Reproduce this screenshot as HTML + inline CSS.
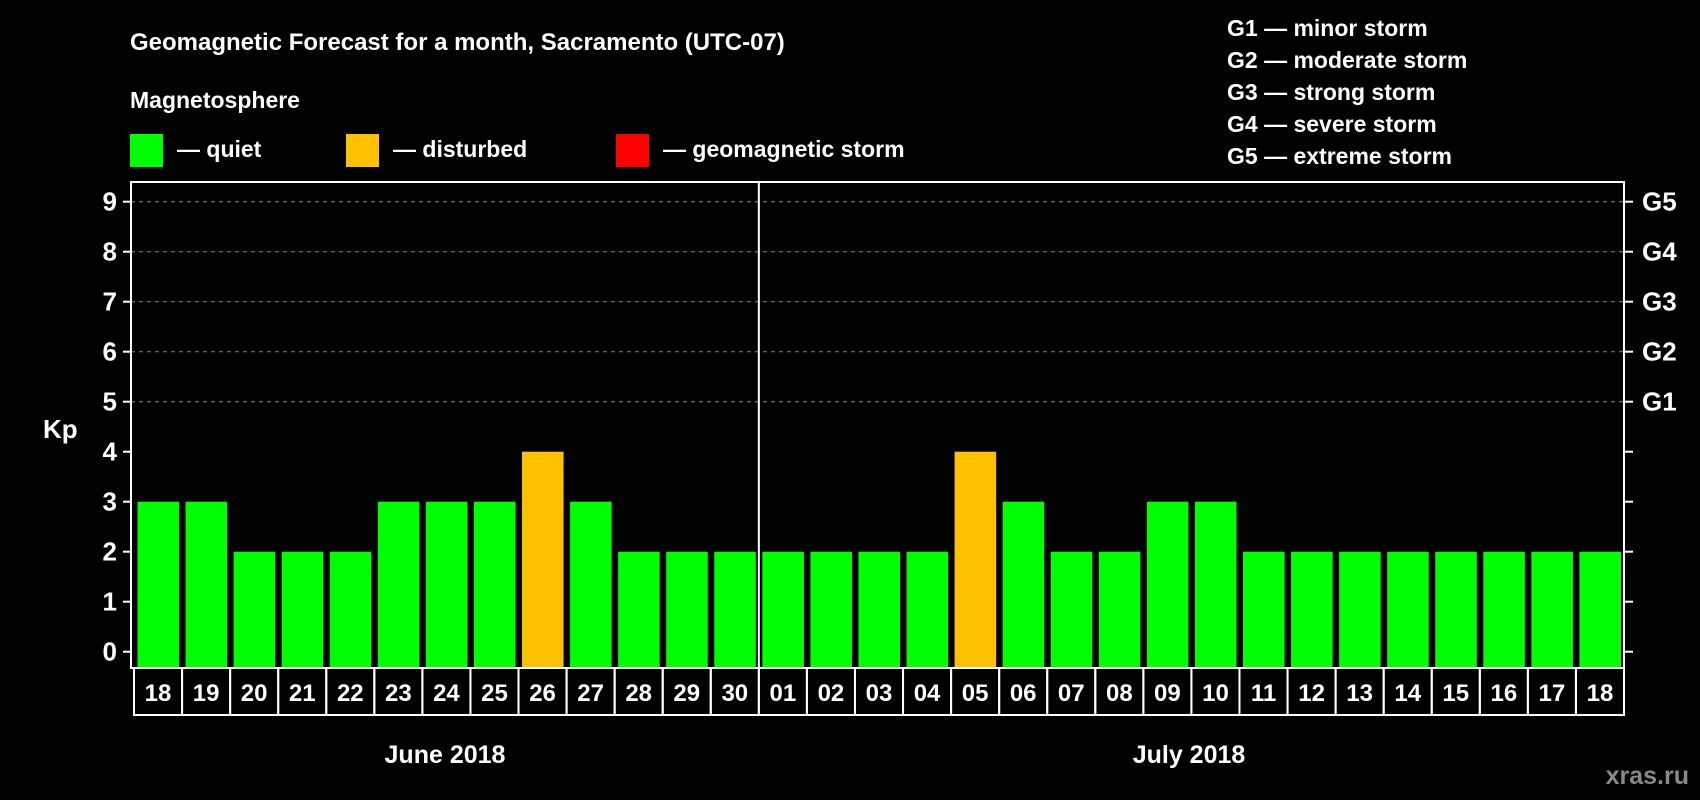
<!DOCTYPE html>
<html><head><meta charset="utf-8"><style>
html,body{margin:0;padding:0;background:#000;width:1700px;height:800px;overflow:hidden}
svg{display:block;font-family:"Liberation Sans",sans-serif;font-weight:bold}
</style></head><body>
<svg id="c" width="1700" height="800">
<text x="130" y="50" fill="#fff" font-size="24">Geomagnetic Forecast for a month, Sacramento (UTC-07)</text>
<text x="130" y="108" fill="#fff" font-size="23">Magnetosphere</text>
<rect x="130" y="134" width="33" height="33" fill="#00ff00"/>
<text x="177" y="157" fill="#fff" font-size="23">— quiet</text>
<rect x="346" y="134" width="33" height="33" fill="#ffc000"/>
<text x="393" y="157" fill="#fff" font-size="23">— disturbed</text>
<rect x="616" y="134" width="33" height="33" fill="#ff0000"/>
<text x="663" y="157" fill="#fff" font-size="23">— geomagnetic storm</text>
<g fill="#fff" font-size="23">
<text x="1227" y="36">G1 — minor storm</text>
<text x="1227" y="68">G2 — moderate storm</text>
<text x="1227" y="100">G3 — strong storm</text>
<text x="1227" y="132">G4 — severe storm</text>
<text x="1227" y="164">G5 — extreme storm</text>
</g>
<text x="43" y="438" fill="#fff" font-size="26">Kp</text>
<g id="grid"></g><g id="bars"></g><g id="axes"></g>
<text x="445" y="763" fill="#fff" font-size="25" text-anchor="middle">June 2018</text>
<text x="1189" y="763" fill="#fff" font-size="25" text-anchor="middle">July 2018</text>
<text x="1689" y="784" fill="#888" font-size="25" text-anchor="end">xras.ru</text>
</svg>
<script>
const days=["18","19","20","21","22","23","24","25","26","27","28","29","30","01","02","03","04","05","06","07","08","09","10","11","12","13","14","15","16","17","18"];
const kpValues=[3,3,2,2,2,3,3,3,4,3,2,2,2,2,2,2,2,4,3,2,2,3,3,2,2,2,2,2,2,2,2];
const yTicks=[0,1,2,3,4,5,6,7,8,9];
const gLabels=["G1","G2","G3","G4","G5"];
const NS="http://www.w3.org/2000/svg";
const L=131,R=1624,T=182,B=668,X0=134,CW=(1624-134)/31;
const y=v=>651.7-50*v;
const x=i=>X0+i*CW;
function mk(t,a,p){const e=document.createElementNS(NS,t);for(const k in a)e.setAttribute(k,a[k]);p.appendChild(e);return e;}
const grid=document.getElementById('grid'),bars=document.getElementById('bars'),axes=document.getElementById('axes');
yTicks.forEach(v=>{
  if(v>=5){const g=mk('line',{x1:L,x2:R,y1:y(v),y2:y(v),stroke:'#888','stroke-dasharray':'4 4','stroke-width':1},grid);
  
  }
  const t1=mk('line',{x1:L-8,x2:L,y1:y(v),y2:y(v),stroke:'#fff','stroke-width':2},axes);
  
  
  const t2=mk('line',{x1:R,x2:R+9,y1:y(v),y2:y(v),stroke:'#fff','stroke-width':2},axes);
  
  
  const lb=mk('text',{x:117,y:y(v)+9,fill:'#fff','font-size':26,'text-anchor':'end'},axes);lb.textContent=v;
  
  
});
gLabels.forEach((g,i)=>{const t=mk('text',{x:1642,y:y(5+i)+9,fill:'#fff','font-size':26},axes);t.textContent=g;
  
  });
kpValues.forEach((v,i)=>{
  const b=mk('rect',{x:x(i)+3.5,y:y(v),width:CW-6.5,height:B-y(v),fill:v>=5?'#ff0000':(v>=4?'#ffc000':'#00ff00')},bars);
  
  
  const c=mk('rect',{x:x(i),y:B,width:CW,height:47,fill:'none',stroke:'#fff','stroke-width':2},axes);
  
  
  const t=mk('text',{x:x(i)+CW/2,y:B+33,fill:'#fff','font-size':24,'text-anchor':'middle'},axes);t.textContent=days[i];
  
  
});
const fr=mk('rect',{x:L,y:T,width:R-L,height:B-T,fill:'none',stroke:'#fff','stroke-width':2},axes);


const dv=mk('line',{x1:x(13),x2:x(13),y1:T,y2:B,stroke:'#fff','stroke-width':2},axes);


</script>
</body></html>
